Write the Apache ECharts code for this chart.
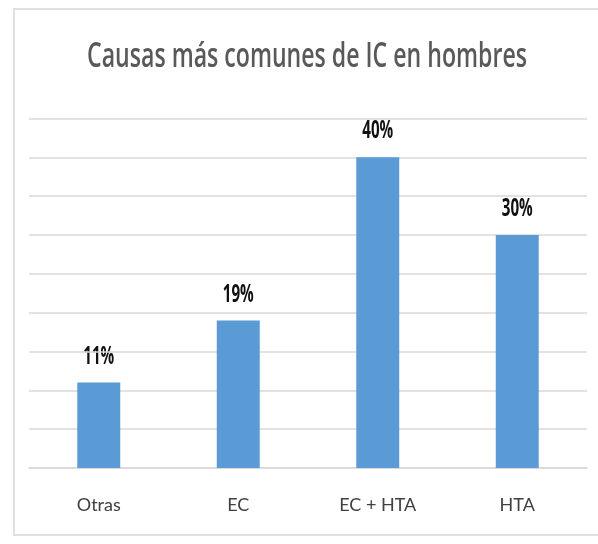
<!DOCTYPE html>
<html><head><meta charset="utf-8">
<script src="https://cdn.jsdelivr.net/npm/echarts@6/dist/echarts.min.js"></script>
<style>html,body{margin:0;padding:0;background:#fff}#c{width:598px;height:544px}</style>
</head><body><div id="c"></div>
<script>
const categories = ["Otras", "EC", "EC + HTA", "HTA"];
const values = [11, 19, 40, 30];
const titleText = "Causas más comunes de IC en hombres";
const FONT = "Lato, 'Open Sans', sans-serif";

const mc = document.createElement('canvas').getContext('2d');
const TITLE_FONT = "600 35px 'Open Sans'";
mc.font = TITLE_FONT;
const titleScale = Math.min(1, 440 / mc.measureText(titleText).width);
const LABEL_FONT = "bold 25px 'Open Sans'";
mc.font = LABEL_FONT;
const labelScale = Math.min(1, 31 / mc.measureText("11%").width);

const chart = echarts.init(document.getElementById('c'), null, {renderer: 'canvas'});
const frame = [
  {type: 'rect', shape: {x: 13, y: 8, width: 590, height: 2}, style: {fill: '#e0e0e0'}},
  {type: 'rect', shape: {x: 13, y: 8, width: 2, height: 528}, style: {fill: '#e0e0e0'}},
  {type: 'rect', shape: {x: 13, y: 534, width: 590, height: 2}, style: {fill: '#e0e0e0'}},
  {type: 'text', x: 307, y: 57, scaleX: titleScale, scaleY: 1,
    style: {text: titleText, font: TITLE_FONT, fill: '#595959', align: 'center', verticalAlign: 'middle'}}
];
chart.setOption({
  backgroundColor: '#ffffff',
  animation: false,
  graphic: frame,
  grid: {left: 29, right: 11, top: 118.5, bottom: 76, containLabel: false},
  xAxis: {
    type: 'category', data: categories,
    axisLine: {show: true, lineStyle: {color: '#d9d9d9', width: 1.5}},
    axisTick: {show: false},
    axisLabel: {margin: 28, fontFamily: FONT, fontSize: 18, color: '#404040'}
  },
  yAxis: {
    type: 'value', min: 0, max: 45, interval: 5,
    axisLabel: {show: false}, axisLine: {show: false}, axisTick: {show: false},
    splitLine: {lineStyle: {color: '#d9d9d9', width: 1.5}}
  },
  series: [{
    type: 'bar', data: values, barWidth: 43,
    itemStyle: {color: '#5b9bd5'},
    label: {show: false}
  }]
});
const labels = values.map((v, i) => {
  const p = chart.convertToPixel({gridIndex: 0}, [categories[i], v]);
  return {type: 'text', x: p[0], y: p[1] - 26, scaleX: labelScale, scaleY: 1,
    style: {text: v + '%', font: LABEL_FONT, fill: '#111111', align: 'center', verticalAlign: 'middle'}};
});
chart.setOption({graphic: frame.concat(labels)});
</script></body></html>
